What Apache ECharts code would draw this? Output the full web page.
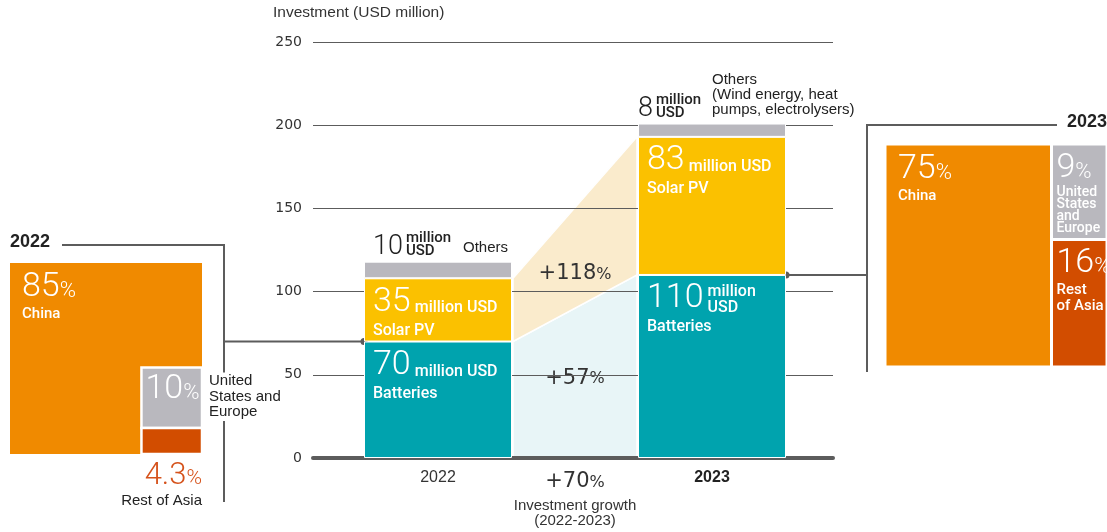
<!DOCTYPE html>
<html>
<head>
<meta charset="utf-8">
<title>Investment by technology and region</title>
<script src="https://cdn.jsdelivr.net/npm/echarts@6.0.0/dist/echarts.min.js"></script>
<style>
  html, body { margin: 0; padding: 0; background: #fff; }
  #chart { width: 1107px; height: 532px; }
</style>
</head>
<body>
<div id="chart"></div>
<script>
// ---- data ----
const years = ['2022', '2023'];
const batteries = [70, 110];
const solarPV = [38, 83];          // bar height as drawn
const solarPVPrinted = [35, 83];   // figure printed inside the bar
const others = [10, 8];
const growthBatteries = '+57%';
const growthSolar = '+118%';
const growthTotal = '+70%';
const yMin = 0, yMax = 250, yStep = 50;

const regions = ['China', 'United States and Europe', 'Rest of Asia'];
const share2022 = [85, 10, 4.3];
const share2023 = [75, 9, 16];

// ---- styles ----
const BAR_W = 148;
const FONT = 'Roboto, "Noto Sans", sans-serif';
const SANS = '"Liberation Sans", Arial, sans-serif';
const WIDE = '"DejaVu Sans", sans-serif';
const C = {
  batteries: '#00A3AE', solar: '#FBC100', others: '#B9B8BE',
  areaBatt: '#E8F5F7', areaSolar: '#FAEBCC',
  ink: '#222', axis: '#5c5c5c', pctAsia: '#D5521B'
};
const REGION_COLORS = ['#F08A00', '#B9B8BE', '#D24D00'];
const GROWTH_DY = [-5, 16];
const ABOVE_DX = [9, 0];

const RICH_BAR = {
  n: { fontSize: 34, fontFamily: FONT, fontWeight: 300, lineHeight: 36, fill: '#fff' },
  u: { fontSize: 16, fontFamily: FONT, fontWeight: 500, lineHeight: 16, verticalAlign: 'bottom', padding: [0, 0, 4, 0], fill: '#fff' },
  l: { fontSize: 16, fontFamily: FONT, fontWeight: 500, lineHeight: 21, fill: '#fff' }
};
const RICH_BOX = {
  n: { fontSize: 34, fontFamily: FONT, fontWeight: 300, lineHeight: 36, fill: '#fff' },
  p: { fontSize: 22, fontFamily: FONT, fontWeight: 300, lineHeight: 22, verticalAlign: 'bottom', padding: [0, 0, 3, 0], fill: '#fff' },
  l: { fontSize: 15, fontFamily: FONT, fontWeight: 500, lineHeight: 18, fill: '#fff' },
  r: { fontSize: 15, fontFamily: FONT, fontWeight: 500, lineHeight: 14, fill: '#fff' },
  s: { fontSize: 14, fontFamily: FONT, fontWeight: 500, lineHeight: 12, fill: '#fff' }
};
const RICH_OUT = {
  n: { fontSize: 31, fontFamily: FONT, fontWeight: 300, lineHeight: 32, fill: C.pctAsia },
  p: { fontSize: 21, fontFamily: FONT, fontWeight: 300, lineHeight: 21, verticalAlign: 'bottom', padding: [0, 0, 3, 0], fill: C.pctAsia },
  l: { fontSize: 15, fontFamily: SANS, lineHeight: 18, fill: C.ink }
};
const RICH_GROWTH = {
  n: { fontSize: 21, fontFamily: WIDE, lineHeight: 24, fill: '#333' },
  p: { fontSize: 16, fontFamily: WIDE, lineHeight: 16, verticalAlign: 'bottom', padding: [0, 0, 3, 0], fill: '#333' },
  N: { fontSize: 21, fontFamily: WIDE, lineHeight: 32, fill: '#333' },
  P: { fontSize: 16, fontFamily: WIDE, lineHeight: 16, verticalAlign: 'bottom', padding: [0, 0, 7, 0], fill: '#333' },
  s: { fontSize: 15, fontFamily: SANS, lineHeight: 15, fill: '#333' }
};

const measureCtx = document.createElement('canvas').getContext('2d');
function textWidth(text, font) { measureCtx.font = font; return measureCtx.measureText(text).width; }

function label(x, y, text, rich, align, extra) {
  return { type: 'text', x, y, style: Object.assign({ text, rich, align: align || 'left', verticalAlign: 'top' }, extra || {}) };
}
function pctText(v) { return '{n|' + v + '}{p|%}'; }

// ---- bar segment labels ----
const segs = [];
years.forEach((y, i) => {
  segs.push({ cat: i, top: batteries[i], num: batteries[i], name: 'Batteries', kind: i === 1 ? 'stacked' : 'inline' });
  segs.push({ cat: i, top: batteries[i] + solarPV[i], num: solarPVPrinted[i], name: 'Solar PV', kind: 'inline' });
  segs.push({ cat: i, top: batteries[i] + solarPV[i] + others[i], num: others[i],
    name: i === 0 ? 'Others' : 'Others\n(Wind energy, heat\npumps, electrolysers)', kind: i === 0 ? 'aboveRight' : 'aboveCenter' });
});

function renderBarLabel(params, api) {
  const s = segs[params.dataIndex];
  const p = api.coord([api.value(0), api.value(1)]);
  const x = p[0] - BAR_W / 2, y = p[1];
  const kids = [];
  if (s.kind === 'inline') {
    kids.push(label(x + 9, y + 6, '{n|' + s.num + '}{u| million USD}\n{l|' + s.name + '}', RICH_BAR));
  } else if (s.kind === 'stacked') {
    kids.push(label(x + 9, y + 6, '{n|' + s.num + '}\n{l|' + s.name + '}', RICH_BAR));
    const w = textWidth(String(s.num), '300 34px ' + FONT);
    kids.push({ type: 'text', x: x + 9 + w + 4, y: y + 9, style: { text: 'million\nUSD', fill: '#fff', fontSize: 16, fontFamily: FONT, fontWeight: 500, lineHeight: 16, verticalAlign: 'top' } });
  } else {
    const nx = x + ABOVE_DX[s.cat];
    kids.push({ type: 'text', x: nx, y: y - 1, style: { text: String(s.num), fill: C.ink, fontSize: 27, fontFamily: FONT, fontWeight: 300, lineHeight: 27, verticalAlign: 'bottom' } });
    const w = textWidth(String(s.num), '300 27px ' + FONT);
    kids.push({ type: 'text', x: nx + w + 3, y: y - 4, style: { text: 'million\nUSD', fill: C.ink, fontSize: 15, fontFamily: FONT, fontWeight: 500, lineHeight: 13, verticalAlign: 'bottom' } });
    if (s.kind === 'aboveRight') {
      kids.push({ type: 'text', x: x + BAR_W - 4, y: y - 6, style: { text: s.name, fill: C.ink, fontSize: 15, fontFamily: SANS, lineHeight: 15, align: 'right', verticalAlign: 'bottom' } });
    } else {
      kids.push({ type: 'text', x: p[0], y: y - 6, style: { text: s.name, fill: C.ink, fontSize: 15, fontFamily: SANS, lineHeight: 15, align: 'left', verticalAlign: 'bottom' } });
    }
  }
  return { type: 'group', children: kids };
}

// ---- growth areas between the bars ----
const growthData = [
  [0, batteries[0], 0, batteries[1]],
  [batteries[0], batteries[0] + solarPV[0], batteries[1], batteries[1] + solarPV[1]]
];
const growthLabels = [growthBatteries, growthSolar];
const growthColors = [C.areaBatt, C.areaSolar];

function renderGrowth(params, api) {
  const i = params.dataIndex;
  const a0 = api.coord([0, api.value(0)]), a1 = api.coord([0, api.value(1)]);
  const b0 = api.coord([1, api.value(2)]), b1 = api.coord([1, api.value(3)]);
  const xa = a0[0] + BAR_W / 2 + 1, xb = b0[0] - BAR_W / 2 - 1;
  const kids = [{
    type: 'polygon',
    shape: { points: [[xa, a0[1]], [xa, a1[1]], [xb, b1[1]], [xb, b0[1]]] },
    style: { fill: growthColors[i], stroke: '#fff', lineWidth: 1.5 }
  }];
  const cx = (xa + xb) / 2;
  const cy = (a0[1] + a1[1] + b0[1] + b1[1]) / 4 + GROWTH_DY[i];
  const g = growthLabels[i];
  kids.push(label(cx, cy, '{n|' + g.slice(0, -1) + '}{p|%}', RICH_GROWTH, 'center', { verticalAlign: 'middle' }));
  if (i === 0) {
    const zeroY = api.coord([0, 0])[1];
    kids.push(label(cx, zeroY + 8, '{N|' + growthTotal.slice(0, -1) + '}{P|%}\n{s|Investment growth}\n{s|(2022-2023)}', RICH_GROWTH, 'center'));
  }
  return { type: 'group', children: kids };
}

// ---- regional share boxes ----
function boxRect(api) {
  const p0 = api.coord([0, 0]), p1 = api.coord([1, 1]);
  return { x: p0[0], y: p0[1], w: p1[0] - p0[0], h: p1[1] - p0[1] };
}
// 2022: small shares tucked into the bottom-right corner
function layout2022(shares, r) {
  const unit = r.w * r.h / 100;
  const s = Math.sqrt(shares[1] * unit);
  const hr = shares[2] * unit / s;
  return [
    { x: r.x, y: r.y, w: r.w, h: r.h },
    { x: r.x + r.w - s, y: r.y + r.h - hr - s, w: s, h: s },
    { x: r.x + r.w - s, y: r.y + r.h - hr, w: s, h: hr }
  ];
}
// 2023: slice off the first share, split the side column (sqrt-balanced so labels fit)
function layout2023(shares, r) {
  const total = shares.reduce((a, b) => a + b, 0);
  const wc = r.w * shares[0] / total;
  const g = Math.sqrt(shares[1]), a = Math.sqrt(shares[2]);
  const hg = r.h * g / (g + a);
  return [
    { x: r.x, y: r.y, w: wc, h: r.h },
    { x: r.x + wc, y: r.y, w: r.w - wc, h: hg },
    { x: r.x + wc, y: r.y + hg, w: r.w - wc, h: r.h - hg }
  ];
}
function cellRect(c, color, strokeW) {
  return { type: 'rect', shape: { x: c.x, y: c.y, width: c.w, height: c.h },
    style: { fill: color, stroke: strokeW ? '#fff' : null, lineWidth: strokeW || 0 } };
}

function renderBox2022(params, api) {
  const i = params.dataIndex;
  const c = layout2022(share2022, boxRect(api))[i];
  const kids = [cellRect(c, REGION_COLORS[i], i ? 2.5 : 0)];
  if (i === 0) {
    kids.push(label(c.x + 12, c.y + 6, pctText(share2022[0]) + '\n{l|' + regions[0] + '}', RICH_BOX));
  } else if (i === 1) {
    kids.push(label(c.x + 4, c.y + 4, pctText(share2022[1]), RICH_BOX));
    kids.push({ type: 'text', x: c.x + c.w + 5, y: c.y + 5, z2: 10,
      style: { text: 'United\nStates and\nEurope', fill: C.ink, fontSize: 15, fontFamily: SANS, lineHeight: 15.5,
        verticalAlign: 'top', backgroundColor: '#fff', padding: [1, 2, 1, 2] } });
  } else {
    kids.push(label(c.x + c.w, c.y + c.h + 6, pctText(share2022[2]) + '\n{l|' + regions[2] + '}', RICH_OUT, 'right'));
  }
  return { type: 'group', children: kids };
}

function renderBox2023(params, api) {
  const i = params.dataIndex;
  const c = layout2023(share2023, boxRect(api))[i];
  const names = ['{l|China}', '{s|United}\n{s|States}\n{s|and}\n{s|Europe}', '{l|Rest}\n{r|of Asia}'];
  const kids = [cellRect(c, REGION_COLORS[i], 3)];
  kids.push(label(c.x + (i ? 5 : 13), c.y + (i ? 6 : 7), pctText(share2023[i]) + '\n' + names[i], RICH_BOX));
  return { type: 'group', children: kids };
}

// ---- chart ----
const chart = echarts.init(document.getElementById('chart'));
const hidden = { show: false };

chart.setOption({
  animation: false,
  backgroundColor: '#fff',
  title: { text: 'Investment (USD million)', left: 268, top: 0,
    textStyle: { fontSize: 15.5, fontWeight: 'normal', color: '#333', fontFamily: SANS } },
  grid: [
    { left: 313, top: 42, width: 520, height: 416 },
    { left: 301, top: 42, width: 548, height: 416 },
    { left: 10, top: 263, width: 192, height: 191 },
    { left: 885, top: 144, width: 222, height: 223 }
  ],
  xAxis: [
    { gridIndex: 0, type: 'value', min: 0, max: 1,
      axisLine: { show: true, onZero: false, lineStyle: { color: C.axis, width: 4 } },
      axisTick: hidden, axisLabel: hidden, splitLine: hidden },
    { gridIndex: 1, type: 'category', data: years,
      axisLine: hidden, axisTick: hidden,
      axisLabel: { margin: 12, fontSize: 16, color: '#333', fontFamily: SANS,
        formatter: (v, i) => i === 1 ? '{b|' + v + '}' : v,
        rich: { b: { fontWeight: 'bold', fontSize: 16, color: C.ink, fontFamily: SANS } } } },
    { gridIndex: 2, type: 'value', min: 0, max: 1, show: false },
    { gridIndex: 3, type: 'value', min: 0, max: 1, show: false }
  ],
  yAxis: [
    { gridIndex: 0, type: 'value', min: yMin, max: yMax, interval: yStep,
      axisLine: hidden, axisTick: hidden,
      axisLabel: { margin: 11, fontSize: 14, color: '#333', fontFamily: WIDE },
      splitLine: { lineStyle: { color: C.axis, width: 1 } } },
    { gridIndex: 1, type: 'value', min: yMin, max: yMax, show: false },
    { gridIndex: 2, type: 'value', min: 0, max: 1, inverse: true, show: false },
    { gridIndex: 3, type: 'value', min: 0, max: 1, inverse: true, show: false }
  ],
  series: [
    { name: 'Batteries', type: 'bar', xAxisIndex: 1, yAxisIndex: 1, stack: 'total', barWidth: BAR_W, silent: true,
      data: batteries, itemStyle: { color: C.batteries, borderColor: '#fff', borderWidth: 1 } },
    { name: 'Solar PV', type: 'bar', xAxisIndex: 1, yAxisIndex: 1, stack: 'total', barWidth: BAR_W, silent: true,
      data: solarPV, itemStyle: { color: C.solar, borderColor: '#fff', borderWidth: 1 } },
    { name: 'Others', type: 'bar', xAxisIndex: 1, yAxisIndex: 1, stack: 'total', barWidth: BAR_W, silent: true,
      data: others, itemStyle: { color: C.others, borderColor: '#fff', borderWidth: 1 } },
    { name: 'growth', type: 'custom', xAxisIndex: 1, yAxisIndex: 1, z: -1, silent: true,
      data: growthData, renderItem: renderGrowth },
    { name: 'barLabels', type: 'custom', xAxisIndex: 1, yAxisIndex: 1, z: 5, silent: true,
      data: segs.map(s => [s.cat, s.top]), renderItem: renderBarLabel },
    { name: 'share2022', type: 'custom', xAxisIndex: 2, yAxisIndex: 2, z: 3, silent: true,
      data: share2022.map((v, i) => [i, v]), renderItem: renderBox2022 },
    { name: 'share2023', type: 'custom', xAxisIndex: 3, yAxisIndex: 3, z: 3, silent: true,
      data: share2023.map((v, i) => [i, v]), renderItem: renderBox2023 }
  ]
});

// connectors between the share boxes and the bars
function drawConnectors() {
  const px = (gi, v) => chart.convertToPixel({ xAxisIndex: gi, yAxisIndex: gi }, v);
  const L0 = px(2, [0, 0]), L1 = px(2, [1, 1]);
  const R0 = px(3, [0, 0]), R1 = px(3, [1, 1]);
  const d22 = px(1, [0, batteries[0]]); d22[0] -= BAR_W / 2;
  const d23 = px(1, [1, batteries[1]]); d23[0] += BAR_W / 2;
  const ls = { stroke: C.axis, lineWidth: 2, fill: null };
  const lx = L1[0] + 22, ly = L0[1] - 18;
  const rx = R0[0] - 18, ry = R0[1] - 19;
  chart.setOption({
    graphic: [
      { type: 'text', x: L0[0], y: ly - 3, style: { text: '2022', font: 'bold 18px ' + SANS, fill: C.ink, verticalAlign: 'middle' } },
      { type: 'polyline', shape: { points: [[L0[0] + 52, ly], [lx, ly], [lx, L1[1] + 48]] }, style: ls },
      { type: 'polyline', shape: { points: [[lx, d22[1]], [d22[0], d22[1]]] }, style: ls },
      { type: 'circle', shape: { cx: d22[0], cy: d22[1], r: 3.5 }, style: { fill: C.axis } },
      { type: 'text', x: R1[0], y: ry - 3, style: { text: '2023', font: 'bold 18px ' + SANS, fill: C.ink, align: 'right', verticalAlign: 'middle' } },
      { type: 'polyline', shape: { points: [[R1[0] - 50, ry], [rx, ry], [rx, R1[1] + 5]] }, style: ls },
      { type: 'polyline', shape: { points: [[d23[0], d23[1]], [rx, d23[1]]] }, style: ls },
      { type: 'circle', shape: { cx: d23[0], cy: d23[1], r: 3.5 }, style: { fill: C.axis } }
    ]
  });
}
drawConnectors();
</script>
</body>
</html>
